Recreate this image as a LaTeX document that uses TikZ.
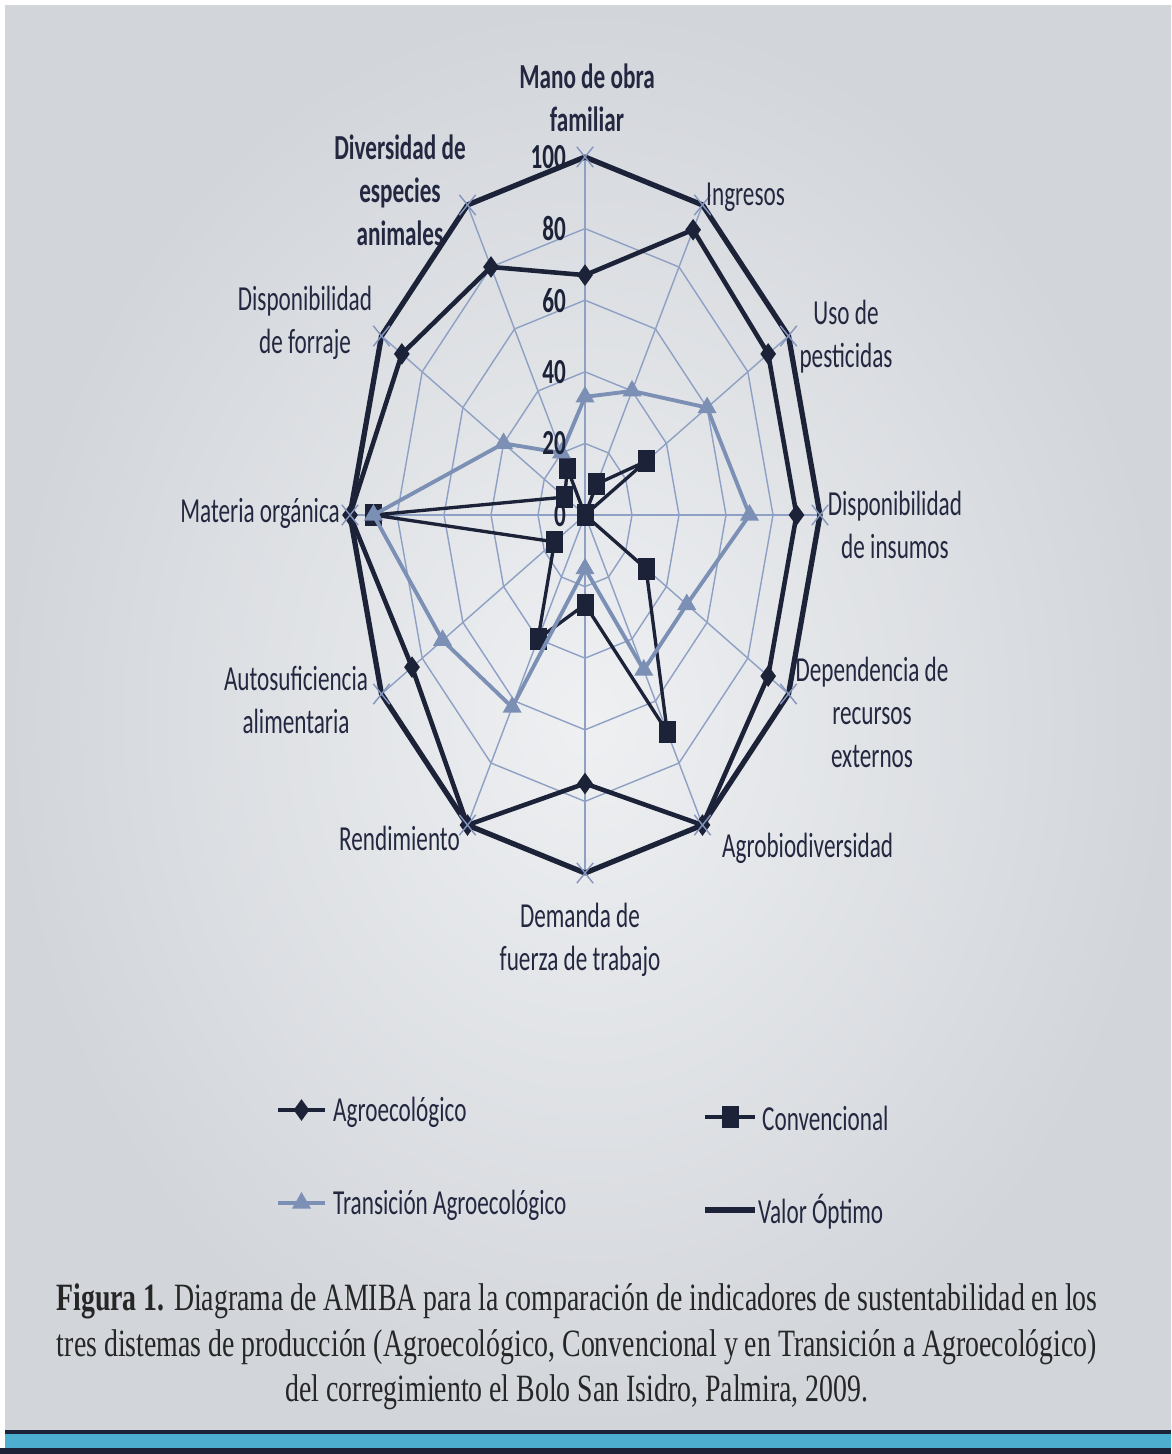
\documentclass[tikz,border=0pt]{standalone}
\usepackage{fontspec}
\setmainfont{Liberation Serif}
\newfontfamily\calibri{Carlito}
\usetikzlibrary{shapes,positioning,calc}

\definecolor{paper}{HTML}{EEF0F2}
\definecolor{paperedge}{HTML}{D2D5DA}
\definecolor{webc}{HTML}{8EA0C4}
\definecolor{inkc}{HTML}{1C2238}
\definecolor{transc}{HTML}{7C90B6}
\definecolor{xmc}{HTML}{8496BE}
\definecolor{labc}{HTML}{232840}
\definecolor{bandc}{HTML}{4DAED0}

\begin{document}
\begin{tikzpicture}[x=0.02cm,y=-0.02cm]
      \tikzstyle{web}=[draw=webc,line width=0.8pt]
      \tikzstyle{agro}=[draw=inkc,line width=2.6pt,line join=round]
      \tikzstyle{conv}=[draw=inkc,line width=1.9pt,line join=round]
      \tikzstyle{trans}=[draw=transc,line width=2.2pt,line join=round]
      \tikzstyle{opt}=[draw=inkc,line width=3pt,line join=round]
      \tikzstyle{diam}=[diamond,fill=inkc,inner sep=0pt,minimum width=0.32cm,minimum height=0.44cm]
      \tikzstyle{sq}=[rectangle,fill=inkc,inner sep=0pt,minimum width=0.34cm,minimum height=0.44cm]
      \tikzstyle{tri}=[regular polygon,regular polygon sides=3,fill=transc,inner sep=0pt,minimum size=0.44cm]
      \tikzstyle{xm}=[cross out,draw=xmc,line width=0.8pt,inner sep=0pt,minimum width=0.3cm,minimum height=0.38cm]
      \tikzstyle{lbl}=[font=\calibri\fontsize{20}{24.5}\selectfont,text=labc,align=center,xscale=0.66,inner sep=0pt]
      \tikzstyle{lblb}=[lbl,font=\calibri\bfseries\fontsize{20}{24.5}\selectfont]
      \tikzstyle{tick}=[font=\calibri\bfseries\fontsize{20}{24}\selectfont,text=inkc,xscale=0.66,inner sep=0pt,anchor=east]
      \tikzstyle{figcap}=[font=\fontsize{22}{26}\selectfont,text=black!85,align=center,xscale=0.72,inner sep=0pt]

      \useasboundingbox (0,0) rectangle (1171,1454);
      \fill[white] (0,0) rectangle (1171,1454);
      \shade[inner color=paper,outer color=paperedge] (5,5) rectangle (1171,1431);
      \fill[inkc] (5,1430) rectangle (1171,1434);
      \fill[bandc] (5,1434) rectangle (1171,1448);
      \fill[inkc] (0,1448) rectangle (1171,1454);

      \begin{scope}[shift={(585,515)},xscale=2.35,yscale=3.58]
        \foreach \r in {20,40,...,100}
          \draw[web] (-90:\r) \foreach \a in {-60,-30,...,240}{-- (\a:\r)} -- cycle;
        \foreach \a in {-90,-60,...,240}
          \draw[web] (0,0) -- (\a:100);

        \foreach \v [count=\i from 0] in {67,92,90,90,90,100,75,100,85,100,90,80}
          \coordinate (ag\i) at ({\i*30-90}:\v);
        \foreach \v [count=\i from 0] in {0,10,30,0,30,70,25,40,15,90,10,15}
          \coordinate (cv\i) at ({\i*30-90}:\v);
        \foreach \v [count=\i from 0] in {33,40,60,70,50,50,15,62,70,90,40,20}
          \coordinate (tr\i) at ({\i*30-90}:\v);
        \foreach \i in {0,...,11}
          \coordinate (op\i) at ({\i*30-90}:100);
      \end{scope}

      \draw[agro] (ag0) \foreach \i in {1,...,11}{-- (ag\i)} -- cycle;
      \foreach \i in {0,...,11} \node[diam] (agm\i) at (ag\i) {};

      \draw[conv] (cv0) \foreach \i in {1,...,11}{-- (cv\i)} -- cycle;
      \foreach \i in {0,...,11} \node[sq] (cvm\i) at (cv\i) {};

      \draw[trans] (tr0) \foreach \i in {1,...,11}{-- (tr\i)} -- cycle;
      \foreach \i in {0,...,11} \node[tri] (trm\i) at (tr\i) {};

      \draw[opt] (op0) \foreach \i in {1,...,11}{-- (op\i)} -- cycle;
      \foreach \i in {0,...,11} \node[xm] (opm\i) at (op\i) {};

      \foreach \t in {0,20,...,100}
        \node[tick] (tk\t) at (566,{515-3.58*\t}) {\t};

      \node[lblb] (mano) at (587,98) {Mano de obra\\familiar};
      \node[lbl,anchor=west] (ingresos) at (706,197) {Ingresos};
      \node[lbl] (uso) at (846,337) {Uso de\\pesticidas};
      \node[lbl] (insumos) at (895,525) {Disponibilidad\\de insumos};
      \node[lbl] (depend) at (872,712) {Dependencia de\\recursos\\externos};
      \node[lbl,anchor=west] (agrob) at (722,848) {Agrobiodiversidad};
      \node[lbl] (demanda) at (580,940) {Demanda de\\fuerza de trabajo};
      \node[lbl,anchor=east] (rend) at (460,838) {Rendimiento};
      \node[lbl] (autosuf) at (296,700) {Autosuficiencia\\alimentaria};
      \node[lbl,anchor=east] (materia) at (340,513) {Materia orgánica};
      \node[lbl] (forraje) at (305,323) {Disponibilidad\\de forraje};
      \node[lblb] (divers) at (400,190) {Diversidad de\\especies\\animales};

      \coordinate (l1a) at (278,1110); \coordinate (l1b) at (325,1110);
      \coordinate (l2a) at (705,1117); \coordinate (l2b) at (755,1117);
      \coordinate (l3a) at (278,1203); \coordinate (l3b) at (325,1203);
      \coordinate (l4a) at (705,1210); \coordinate (l4b) at (755,1210);
      \path[agro] (l1a) edge (l1b);
      \path[conv] (l2a) edge (l2b);
      \path[trans] (l3a) edge (l3b);
      \path[opt] (l4a) edge (l4b);
      \node[diam] (k1) at ($(l1a)!0.5!(l1b)$) {};
      \node[sq] (k2) at ($(l2a)!0.5!(l2b)$) {};
      \node[tri] (k3) at ($(l3a)!0.5!(l3b)$) {};
      \node[lbl,anchor=west] (t1) at (333,1112) {Agroecológico};
      \node[lbl,anchor=west] (t2) at (762,1118) {Convencional};
      \node[lbl,anchor=west] (t3) at (333,1205) {Transición Agroecológico};
      \node[lbl,anchor=west] (t4) at (758,1212) {Valor Óptimo};

      \node[figcap] (caption) at (577,1347) {\textbf{Figura 1.} Diagrama de AMIBA para la comparación de indicadores de sustentabilidad en los\\tres distemas de producción (Agroecológico, Convencional y en Transición a Agroecológico)\\del corregimiento el Bolo San Isidro, Palmira, 2009.};
\end{tikzpicture}
\end{document}
